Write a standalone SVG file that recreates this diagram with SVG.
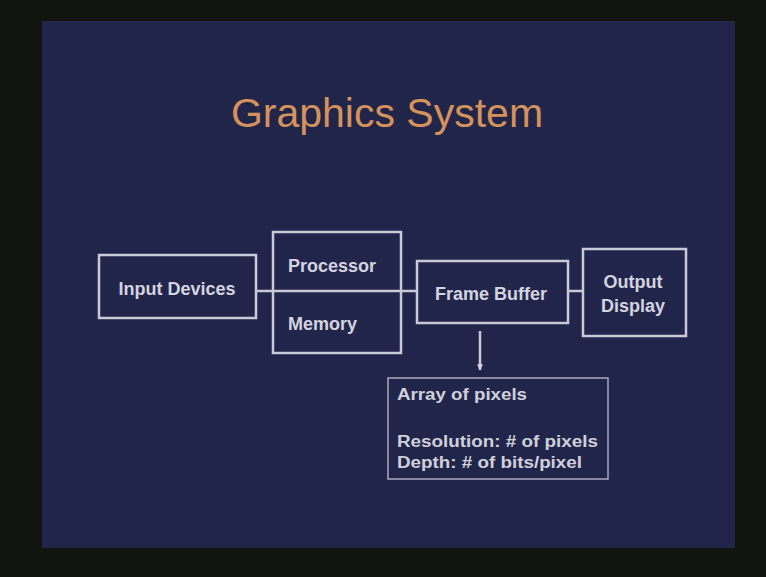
<svg xmlns="http://www.w3.org/2000/svg" width="766" height="577" viewBox="0 0 766 577">
  <defs>
    <style>
      .box { fill: none; stroke: #c9cad8; stroke-width: 2.5; }
      .thin { fill: none; stroke: #a9abc0; stroke-width: 1.5; }
      .wire { fill: none; stroke: #c9cad8; stroke-width: 2.5; }
      .lbl { font-family: "Liberation Sans", Arial, sans-serif; font-weight: bold; font-size: 18px; fill: #d3d4e0; }
      .note { font-family: "Liberation Sans", Arial, sans-serif; font-weight: bold; font-size: 16px; fill: #cfd0dc; }
      .title { font-family: "Liberation Sans", Arial, sans-serif; font-size: 41px; fill: #d4925c; }
    </style>
    <marker id="head" viewBox="0 0 8 8" refX="7" refY="4" markerWidth="2.6" markerHeight="2.6" orient="auto">
      <path d="M0,0.5 L8,4 L0,7.5 Z" fill="#d6d7e4"/>
    </marker>
  </defs>

  <!-- frame and slide -->
  <rect x="0" y="0" width="766" height="577" fill="#121410"/>
  <rect x="42" y="21" width="693" height="527" fill="#22254a"/>

  <text class="title" x="387" y="127" text-anchor="middle">Graphics System</text>

  <!-- connectors -->
  <g id="connectors">
    <line class="wire" x1="256" y1="291" x2="417" y2="291"/>
    <line class="wire" x1="568" y1="291" x2="583" y2="291"/>
    <line class="wire" x1="480" y1="331" x2="480" y2="370" marker-end="url(#head)"/>
  </g>

  <g id="input-devices">
    <rect class="box" x="99" y="255" width="157" height="63"/>
    <text class="lbl" x="177" y="295" text-anchor="middle">Input Devices</text>
  </g>

  <g id="processor-memory">
    <rect class="box" x="273" y="232" width="128" height="121"/>
    <text class="lbl" x="288" y="272">Processor</text>
    <text class="lbl" x="288" y="330">Memory</text>
  </g>

  <g id="frame-buffer">
    <rect class="box" x="417" y="261" width="151" height="62"/>
    <text class="lbl" x="491" y="300" text-anchor="middle">Frame Buffer</text>
  </g>

  <g id="output-display">
    <rect class="box" x="583" y="249" width="103" height="87"/>
    <text class="lbl" x="633" y="288" text-anchor="middle">Output</text>
    <text class="lbl" x="633" y="312" text-anchor="middle">Display</text>
  </g>

  <g id="frame-buffer-notes">
    <rect class="thin" x="388" y="378" width="220" height="101"/>
    <text class="note" x="397" y="400" textLength="130" lengthAdjust="spacingAndGlyphs">Array of pixels</text>
    <text class="note" x="397" y="447" textLength="201" lengthAdjust="spacingAndGlyphs">Resolution: # of pixels</text>
    <text class="note" x="397" y="468" textLength="185" lengthAdjust="spacingAndGlyphs">Depth: # of bits/pixel</text>
  </g>
</svg>
